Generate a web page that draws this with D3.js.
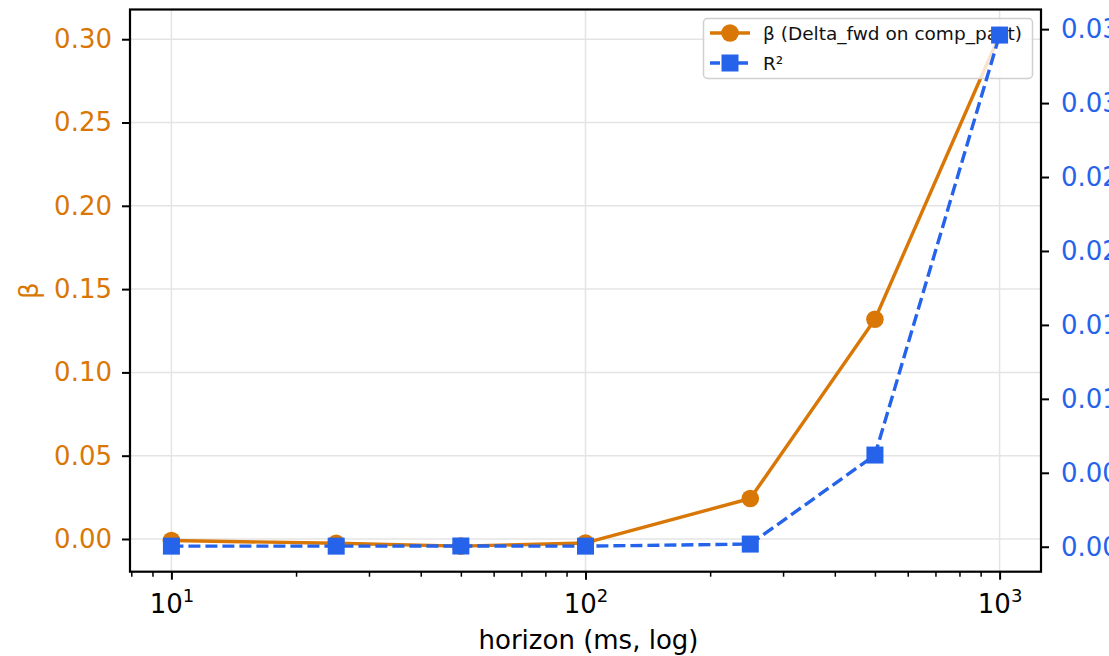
<!DOCTYPE html>
<html><head><meta charset="utf-8">
<script src="https://cdn.jsdelivr.net/npm/d3@7"></script>
<style>
html,body{margin:0;padding:0;background:#fff;overflow:hidden}
text{font-family:"DejaVu Sans",sans-serif}
</style></head>
<body><svg id="c" width="1109" height="656"></svg>
<script>
const horizons = [10, 25, 50, 100, 250, 500, 1000];
const betaValues = [-0.0009, -0.0026, -0.0043, -0.0024, 0.0243, 0.1319, 0.3025];
const r2Values = [0.00004, 0.00004, 0.00005, 0.00004, 0.00018, 0.0062, 0.0346];
const leftTicks = [0.00, 0.05, 0.10, 0.15, 0.20, 0.25, 0.30];
const rightTicks = [0.000, 0.005, 0.010, 0.015, 0.020, 0.025, 0.030, 0.035];
const xMajorTicks = [10, 100, 1000];
const xTickExponents = ["1", "2", "3"];
const seriesLabels = ["β (Delta_fwd on comp_past)", "R²"];

const ORANGE = "#d97706", BLUE = "#2563eb";
const svg = d3.select("#c");
const L = 130, R = 1041, T = 9.5, B = 571.7;

function pad(vals){const lo=d3.min(vals),hi=d3.max(vals),p=(hi-lo)*0.05;return [lo-p,hi+p];}
const x = d3.scaleLog().domain([Math.pow(10,0.9), Math.pow(10,3.1)]).range([L,R]);
const yL = d3.scaleLinear().domain(pad(betaValues)).range([B,T]);
const yR = d3.scaleLinear().domain(pad(r2Values)).range([B,T]);

// grid
const g = svg.append("g");
g.selectAll(".vg").data(xMajorTicks).enter().append("line")
  .attr("x1",d=>x(d)).attr("x2",d=>x(d)).attr("y1",T).attr("y2",B)
  .attr("stroke","#e4e4e4").attr("stroke-width",1.5);
g.selectAll(".hg").data(leftTicks).enter().append("line")
  .attr("x1",L).attr("x2",R).attr("y1",d=>yL(d)).attr("y2",d=>yL(d))
  .attr("stroke","#e4e4e4").attr("stroke-width",1.5);

// beta series
const lineB = d3.line().x((d,i)=>x(horizons[i])).y(d=>yL(d));
svg.append("path").datum(betaValues).attr("d",lineB).attr("fill","none")
  .attr("stroke",ORANGE).attr("stroke-width",3.4).attr("stroke-linejoin","round");
svg.selectAll(".cb").data(betaValues).enter().append("circle")
  .attr("cx",(d,i)=>x(horizons[i])).attr("cy",d=>yL(d)).attr("r",8.8).attr("fill",ORANGE);

// legend
const lg = svg.append("g");
lg.append("rect").attr("x",703.5).attr("y",18.5).attr("width",329).attr("height",60).attr("rx",4)
  .attr("fill","rgba(255,255,255,0.8)").attr("stroke","#d0d0d0").attr("stroke-width",1.5);
lg.append("line").attr("x1",710).attr("x2",750).attr("y1",33).attr("y2",33)
  .attr("stroke",ORANGE).attr("stroke-width",3.4);
lg.append("circle").attr("cx",730).attr("cy",33).attr("r",8.8).attr("fill",ORANGE);
lg.append("line").attr("x1",710).attr("x2",750).attr("y1",63).attr("y2",63)
  .attr("stroke",BLUE).attr("stroke-width",3.4).attr("stroke-dasharray","10,4");
lg.append("rect").attr("x",721.5).attr("y",54.5).attr("width",17).attr("height",17).attr("fill",BLUE);
lg.selectAll("text").data(seriesLabels).enter().append("text")
  .attr("x",763).attr("y",(d,i)=>33+i*30).attr("dy","0.36em")
  .attr("font-size",18.5).attr("fill","#111").text(d=>d);

// R2 series
const lineR = d3.line().x((d,i)=>x(horizons[i])).y(d=>yR(d));
svg.append("path").datum(r2Values).attr("d",lineR).attr("fill","none")
  .attr("stroke",BLUE).attr("stroke-width",3.4).attr("stroke-dasharray","12,5");
svg.selectAll(".sr").data(r2Values).enter().append("rect")
  .attr("x",(d,i)=>x(horizons[i])-8.5).attr("y",d=>yR(d)-8.5)
  .attr("width",17).attr("height",17).attr("fill",BLUE);

// spines
svg.append("rect").attr("x",L).attr("y",T).attr("width",R-L).attr("height",B-T)
  .attr("fill","none").attr("stroke","#000").attr("stroke-width",2.2);

// left axis
const axL = d3.axisLeft(yL).tickValues(leftTicks).tickFormat(d3.format(".2f")).tickSize(8).tickPadding(10);
const gL = svg.append("g").attr("transform",`translate(${L},0)`).call(axL);
gL.select(".domain").remove();
gL.selectAll(".tick line").attr("stroke","#000").attr("stroke-width",2);
gL.selectAll(".tick text").attr("fill",ORANGE).attr("font-size",26).attr("font-family","DejaVu Sans");

// right axis
const axR = d3.axisRight(yR).tickValues(rightTicks).tickFormat(d3.format(".3f")).tickSize(8).tickPadding(12);
const gR = svg.append("g").attr("transform",`translate(${R},0)`).call(axR);
gR.select(".domain").remove();
gR.selectAll(".tick line").attr("stroke","#000").attr("stroke-width",2);
gR.selectAll(".tick text").attr("fill",BLUE).attr("font-size",26).attr("font-family","DejaVu Sans");

// bottom axis: major + minor ticks
const minor = [];
[1,10,100,1000].forEach(b=>{for(let k=2;k<10;k++){const v=b*k;if(v>x.domain()[0]&&v<x.domain()[1])minor.push(v);}});
const axBm = d3.axisBottom(x).tickValues(minor).tickSize(5).tickFormat("");
const gBm = svg.append("g").attr("transform",`translate(0,${B})`).call(axBm);
gBm.select(".domain").remove();
gBm.selectAll(".tick line").attr("stroke","#000").attr("stroke-width",1.5);
const axB = d3.axisBottom(x).tickValues(xMajorTicks).tickSize(8).tickFormat("");
const gB = svg.append("g").attr("transform",`translate(0,${B})`).call(axB);
gB.select(".domain").remove();
gB.selectAll(".tick line").attr("stroke","#000").attr("stroke-width",2);
gB.selectAll(".tick").each(function(d,i){
  const t = d3.select(this).append("text").attr("text-anchor","middle").attr("y",41)
    .attr("fill","#000").attr("font-size",26).attr("font-family","DejaVu Sans");
  t.append("tspan").text("10");
  t.append("tspan").attr("font-size",18).attr("dy",-11).text(xTickExponents[i]);
});

// axis labels
svg.append("text").attr("x",(L+R)/2+3).attr("y",649).attr("text-anchor","middle")
  .attr("font-size",26).attr("fill","#000").text("horizon (ms, log)");
svg.append("text").attr("transform",`translate(38,${(T+B)/2}) rotate(-90)`).attr("text-anchor","middle")
  .attr("font-size",26).attr("fill",ORANGE).text("β");
</script></body></html>
